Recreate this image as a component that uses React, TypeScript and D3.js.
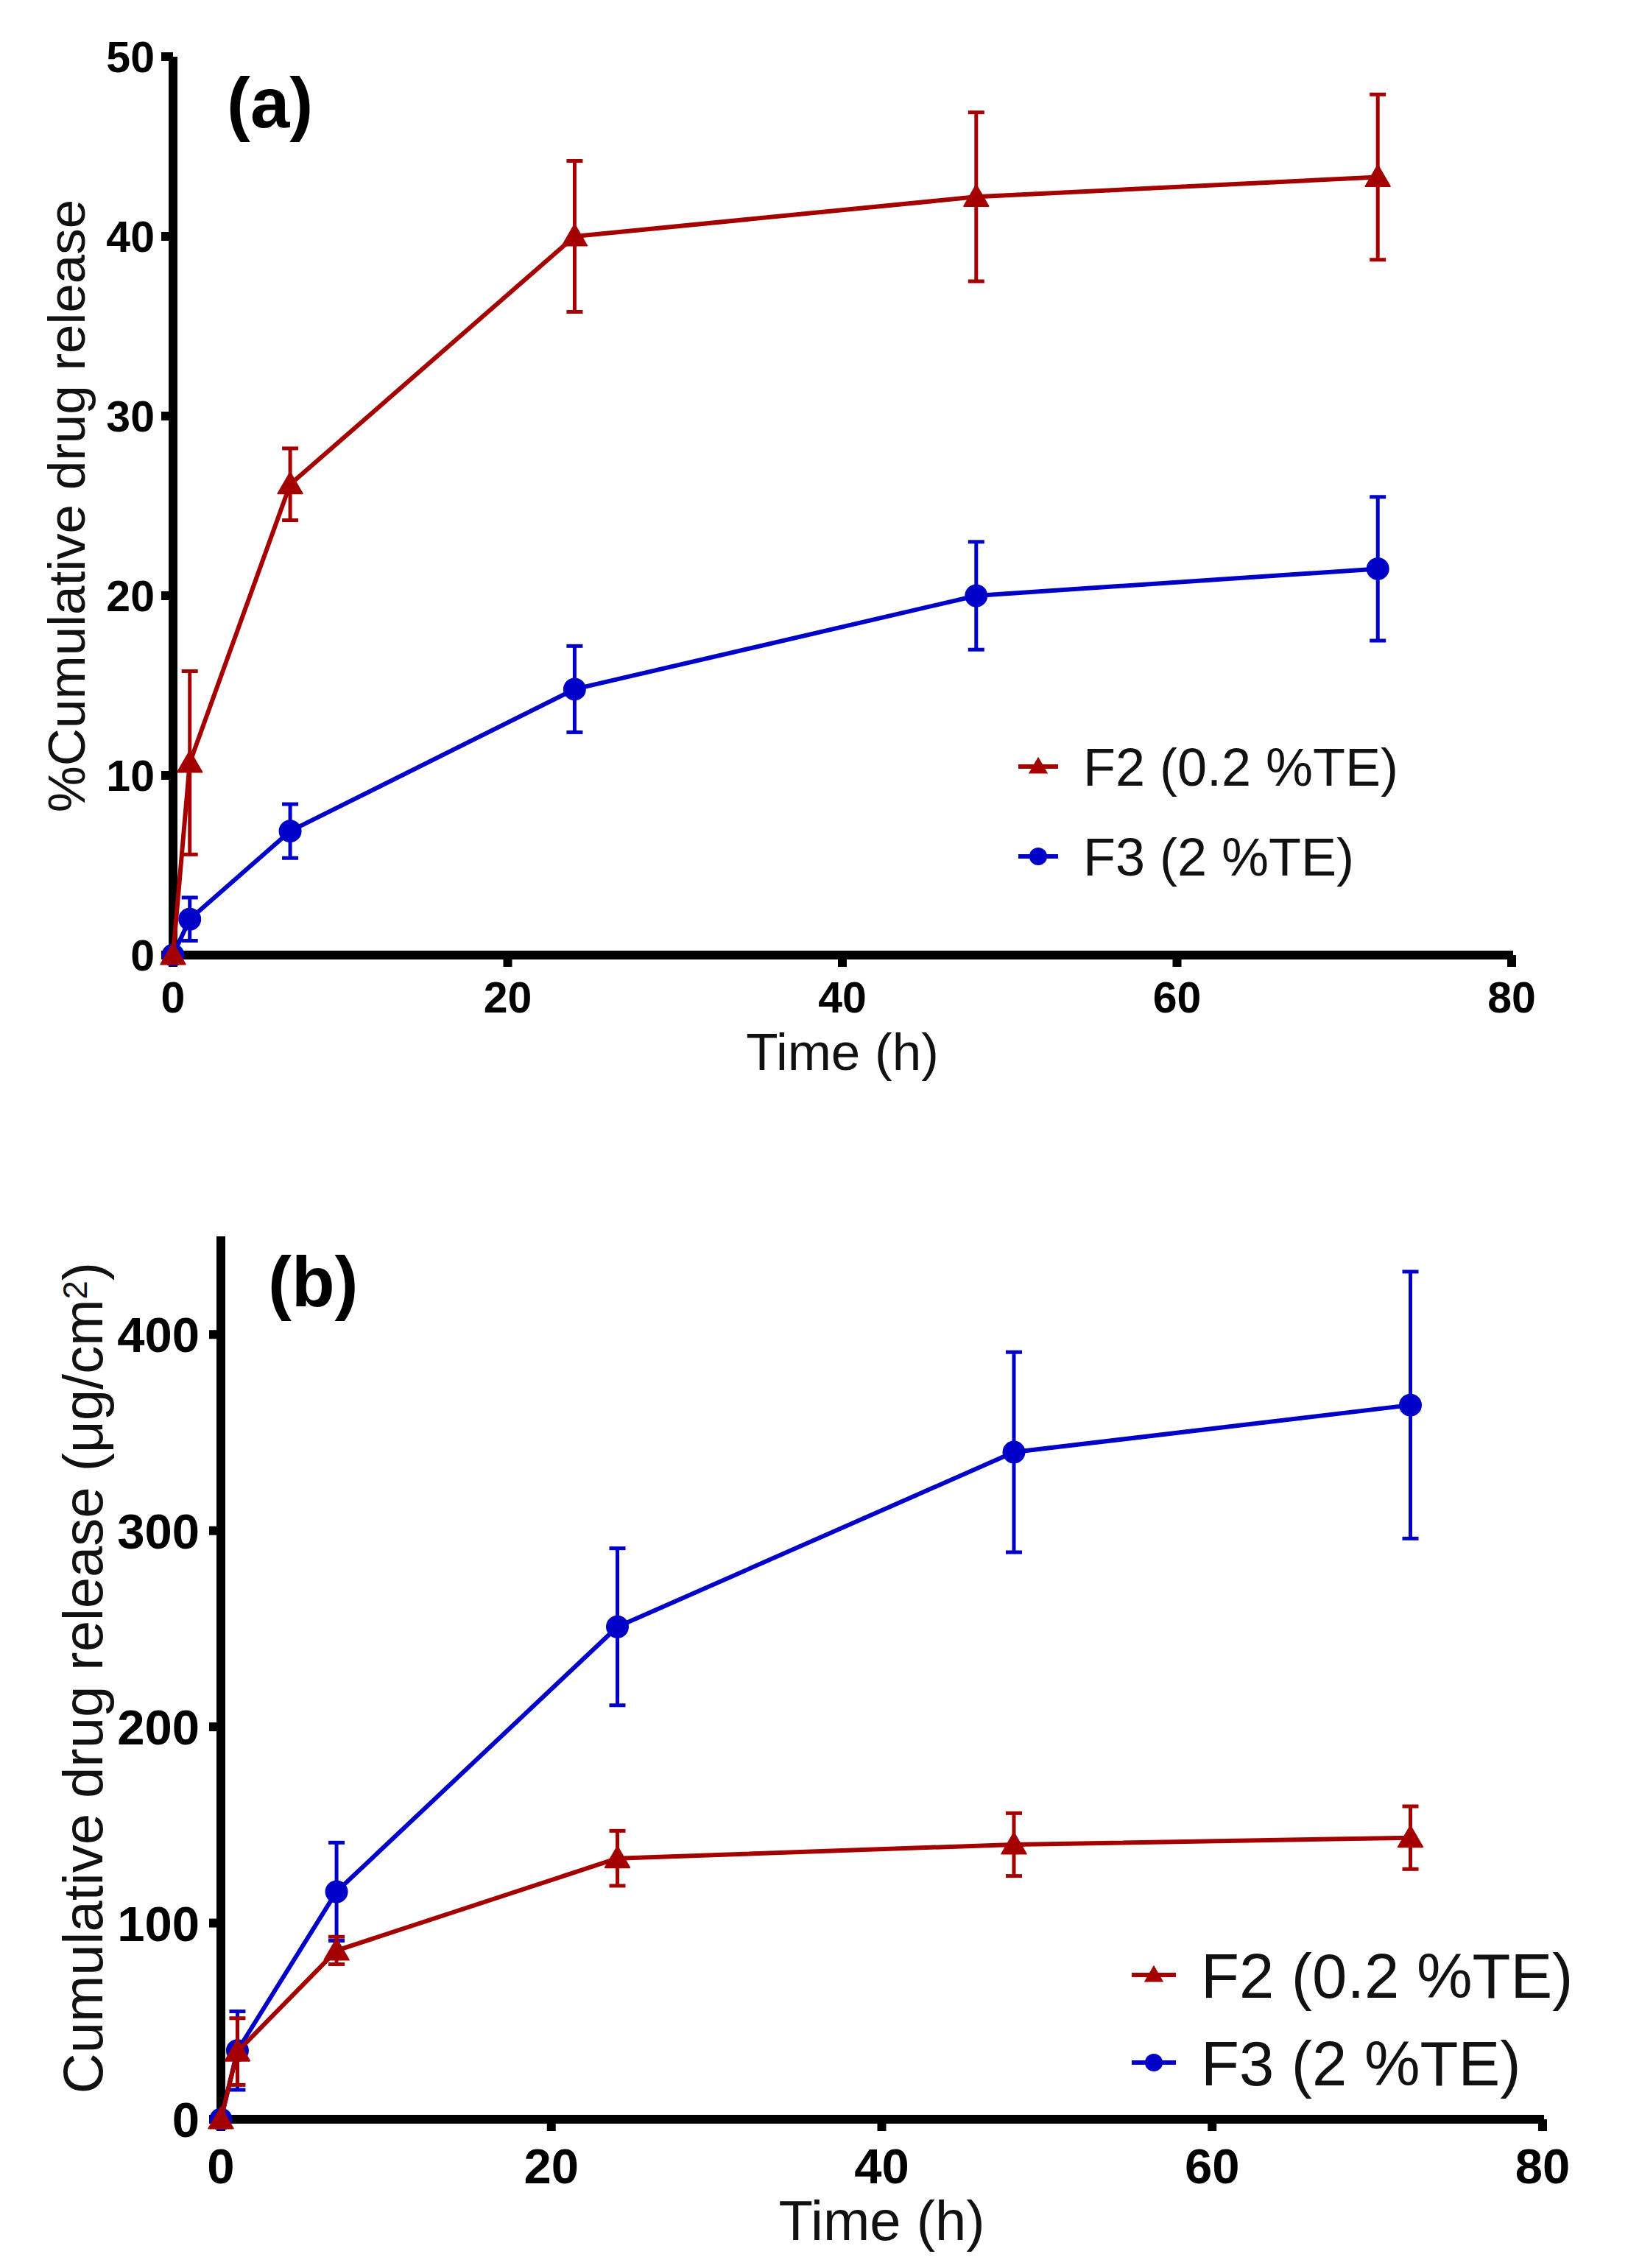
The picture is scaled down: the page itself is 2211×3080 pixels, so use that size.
import * as d3 from 'd3';

// sampling times (h)
const timeH = [0, 1, 7, 24, 48, 72];

// panel (a): % cumulative drug release
const pctF2 = [0, 10.7, 26.2, 40.0, 42.2, 43.3];
const pctF2Err = [0, 5.1, 2.0, 4.2, 4.7, 4.6];
const pctF3 = [0, 2.0, 6.9, 14.8, 20.0, 21.5];
const pctF3Err = [0, 1.2, 1.5, 2.4, 3.0, 4.0];

// panel (b): cumulative drug release (µg/cm²)
const amtF2 = [0, 34.5, 86, 133, 140, 143.5];
const amtF2Err = [0, 17, 7, 14, 16, 16];
const amtF3 = [0, 35, 116, 251, 340, 364];
const amtF3Err = [0, 20, 25, 40, 51, 68];

const xTicks = [0, 20, 40, 60, 80];
const pctTicks = [0, 10, 20, 30, 40, 50];
const amtTicks = [0, 100, 200, 300, 400];

const seriesNames = ['F2 (0.2 %TE)', 'F3 (2 %TE)'];

const RED = '#a50000';
const BLUE = '#0000c8';
const FONT = '"Liberation Sans", Arial, Helvetica, sans-serif';

type Series = { name: string; values: number[]; errors: number[]; color: string; shape: 'triangle' | 'circle' };

interface PanelProps {
  xRange: [number, number];
  yRange: [number, number];
  yMax: number;
  yTicks: number[];
  series: Series[]; // drawing order
  legend: Series[]; // legend order
  tickSize: number;
  tickLabelGap: number;
  xTickBaseline: number;
  tag: string;
  tagPos: [number, number];
  tagSize: number;
  yLabel: React.ReactNode;
  yLabelX: number;
  yLabelSize: number;
  xLabelBaseline: number;
  xLabelSize: number;
  legendX: number;
  legendY: number[];
  legendSize: number;
  legendLine: number;
}

function marker(shape: string, size: number) {
  const sym = shape === 'triangle' ? d3.symbolTriangle : d3.symbolCircle;
  return d3.symbol().type(sym).size(size)() || '';
}

function Panel(p: PanelProps) {
  const x = d3.scaleLinear().domain([0, 80]).range(p.xRange);
  const y = d3.scaleLinear().domain([0, p.yMax]).range(p.yRange);
  const x0 = x(0);
  const y0 = y(0);
  const line = d3.line<number>().x((_, i) => x(timeH[i])).y((v) => y(v));
  const axisW = 12;

  return (
    <g>
      {/* axes */}
      <line x1={x0} x2={x0} y1={y(p.yMax)} y2={y0 + axisW / 2} stroke="#000" strokeWidth={axisW} />
      <line x1={x0 - axisW / 2} x2={x(80) + 2} y1={y0} y2={y0} stroke="#000" strokeWidth={axisW} />
      {p.yTicks.map((t) => (
        <g key={'y' + t}>
          <line x1={x0 - 16} x2={x0} y1={y(t)} y2={y(t)} stroke="#000" strokeWidth={axisW} />
          <text
            x={x0 - p.tickLabelGap}
            y={y(t)}
            dy="0.36em"
            textAnchor="end"
            fontFamily={FONT}
            fontWeight="bold"
            fontSize={p.tickSize}
          >
            {t}
          </text>
        </g>
      ))}
      {xTicks.map((t) => (
        <g key={'x' + t}>
          <line x1={x(t)} x2={x(t)} y1={y0} y2={y0 + 16} stroke="#000" strokeWidth={axisW} />
          <text
            x={x(t)}
            y={p.xTickBaseline}
            textAnchor="middle"
            fontFamily={FONT}
            fontWeight="bold"
            fontSize={p.tickSize}
          >
            {t}
          </text>
        </g>
      ))}

      {/* series */}
      {p.series.map((s) => (
        <g key={s.name}>
          {s.values.map((v, i) =>
            s.errors[i] > 0 ? (
              <g key={i} stroke={s.color} strokeWidth={5}>
                <line x1={x(timeH[i])} x2={x(timeH[i])} y1={y(v - s.errors[i])} y2={y(v + s.errors[i])} />
                <line x1={x(timeH[i]) - 11} x2={x(timeH[i]) + 11} y1={y(v - s.errors[i])} y2={y(v - s.errors[i])} />
                <line x1={x(timeH[i]) - 11} x2={x(timeH[i]) + 11} y1={y(v + s.errors[i])} y2={y(v + s.errors[i])} />
              </g>
            ) : null
          )}
          <path d={line(s.values) || ''} fill="none" stroke={s.color} strokeWidth={6} strokeLinejoin="round" />
          {s.values.map((v, i) => (
            <path
              key={'m' + i}
              d={marker(s.shape, s.shape === 'triangle' ? 480 : 660)}
              transform={`translate(${x(timeH[i])},${y(v) + (s.shape === 'triangle' ? 3 : 0)})`}
              fill={s.color}
              stroke={s.color}
              strokeWidth={2}
              strokeLinejoin="round"
            />
          ))}
        </g>
      ))}

      {/* legend */}
      {p.legend.map((s, i) => (
        <g key={'lg' + s.name}>
          <line
            x1={p.legendX - p.legendLine / 2}
            x2={p.legendX + p.legendLine / 2}
            y1={p.legendY[i]}
            y2={p.legendY[i]}
            stroke={s.color}
            strokeWidth={6}
          />
          <path
            d={marker(s.shape, s.shape === 'triangle' ? 300 : 460)}
            transform={`translate(${p.legendX},${p.legendY[i] + (s.shape === 'triangle' ? 2 : 0)})`}
            fill={s.color}
          />
          <text
            x={p.legendX + p.legendLine / 2 + 34}
            y={p.legendY[i]}
            dy="0.36em"
            fontFamily={FONT}
            fontSize={p.legendSize}
            fill="#111"
          >
            {s.name}
          </text>
        </g>
      ))}

      {/* labels */}
      <text x={p.tagPos[0]} y={p.tagPos[1]} fontFamily={FONT} fontWeight="bold" fontSize={p.tagSize}>
        {p.tag}
      </text>
      <text
        transform={`translate(${p.yLabelX},${(y(0) + y(p.yMax)) / 2}) rotate(-90)`}
        textAnchor="middle"
        fontFamily={FONT}
        fontSize={p.yLabelSize}
        fill="#111"
      >
        {p.yLabel}
      </text>
      <text
        x={(x(0) + x(80)) / 2}
        y={p.xLabelBaseline}
        textAnchor="middle"
        fontFamily={FONT}
        fontSize={p.xLabelSize}
        fill="#111"
      >
        Time (h)
      </text>
    </g>
  );
}

export default function App() {
  const f2a: Series = { name: seriesNames[0], values: pctF2, errors: pctF2Err, color: RED, shape: 'triangle' };
  const f3a: Series = { name: seriesNames[1], values: pctF3, errors: pctF3Err, color: BLUE, shape: 'circle' };
  const f2b: Series = { name: seriesNames[0], values: amtF2, errors: amtF2Err, color: RED, shape: 'triangle' };
  const f3b: Series = { name: seriesNames[1], values: amtF3, errors: amtF3Err, color: BLUE, shape: 'circle' };

  return (
    <svg
      width={2211}
      height={3080}
      style={{ position: 'absolute', left: 0, top: 0, background: '#fff' }}
    >
      <rect width={2211} height={3080} fill="#fff" />
      <Panel
        xRange={[235, 2053]}
        yRange={[1297, 77]}
        yMax={50}
        yTicks={pctTicks}
        series={[f3a, f2a]}
        legend={[f2a, f3a]}
        tickSize={59}
        tickLabelGap={25}
        xTickBaseline={1375}
        tag="(a)"
        tagPos={[308, 173]}
        tagSize={96}
        yLabel="%Cumulative drug release"
        yLabelX={115}
        yLabelSize={71}
        xLabelBaseline={1453}
        xLabelSize={71}
        legendX={1410}
        legendY={[1041, 1163]}
        legendSize={72}
        legendLine={54}
      />
      <Panel
        xRange={[300, 2095]}
        yRange={[2878, 1679]}
        yMax={450}
        yTicks={amtTicks}
        series={[f3b, f2b]}
        legend={[f2b, f3b]}
        tickSize={67}
        tickLabelGap={29}
        xTickBaseline={2965}
        tag="(b)"
        tagPos={[364, 1774]}
        tagSize={96}
        yLabel={
          <>
            Cumulative drug release (μg/cm
            <tspan dy="-0.45em" fontSize="0.6em">2</tspan>
            <tspan dy="0.27em">)</tspan>
          </>
        }
        yLabelX={139}
        yLabelSize={76}
        xLabelBaseline={3042}
        xLabelSize={76}
        legendX={1567}
        legendY={[2682, 2801]}
        legendSize={85}
        legendLine={60}
      />
    </svg>
  );
}
